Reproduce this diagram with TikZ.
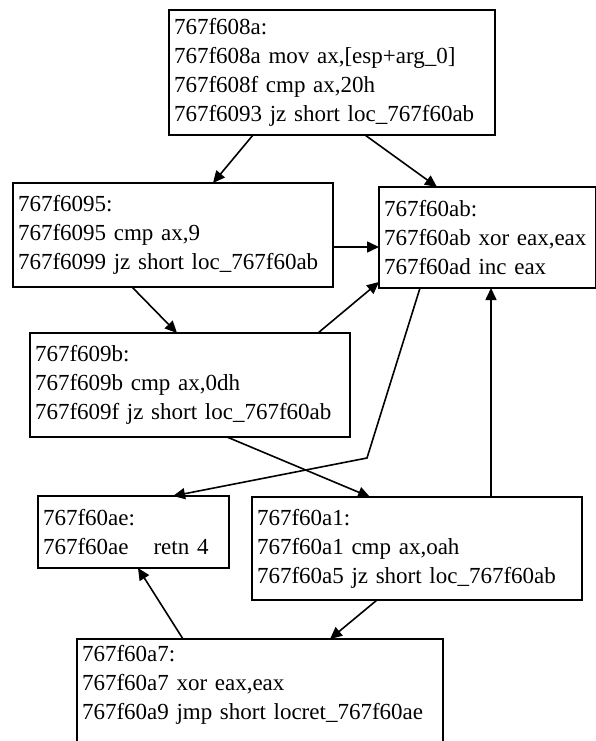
\documentclass[tikz,border=0pt]{standalone}
\usepackage{fontspec}
\setmainfont{Liberation Serif}
\usetikzlibrary{arrows.meta}

\tikzset{
  blk/.style={draw, line width=1.7pt, anchor=north west, align=left, outer sep=0pt,
    inner xsep=5pt, inner ysep=0pt, font=\fontsize{23}{29}\selectfont},
  flow/.style={-{Triangle[length=12pt,width=11pt]}, line width=1.6pt}
}

\begin{document}
\begin{tikzpicture}[x=1pt,y=-1pt]
    \useasboundingbox (0,0) rectangle (596,741);
    \clip (0,0) rectangle (596,741);

    % Basic blocks
    \node[blk, text width=316pt, minimum height=125pt] (b608a) at (169,10)
        {767f608a:\\ 767f608a mov ax,[esp+arg\_0]\\ 767f608f cmp ax,20h\\ 767f6093 jz short loc\_767f60ab};
    \node[blk, text width=310pt, minimum height=104pt] (b6095) at (13,183)
        {767f6095:\\ 767f6095 cmp ax,9\\ 767f6099 jz short loc\_767f60ab};
    \node[blk, text width=207pt, minimum height=101pt] (b60ab) at (379,187)
        {767f60ab:\\ 767f60ab xor eax,eax\\ 767f60ad inc eax};
    \node[blk, text width=310pt, minimum height=104pt] (b609b) at (30,333)
        {767f609b:\\ 767f609b cmp ax,0dh\\ 767f609f jz short loc\_767f60ab};
    \node[blk, text width=181pt, minimum height=72pt] (b60ae) at (38,496)
        {767f60ae:\\ 767f60ae\hspace{25pt}retn 4};
    \node[blk, text width=320pt, minimum height=103pt] (b60a1) at (252,497)
        {767f60a1:\\ 767f60a1 cmp ax,oah\\ 767f60a5 jz short loc\_767f60ab};
    % last block runs off the page
    \node[blk, text width=356pt, inner ysep=6pt] (b60a7) at (77,639)
        {767f60a7:\\ 767f60a7 xor eax,eax\\ 767f60a9 jmp short locret\_767f60ae\\[20pt]\mbox{}};

    \coordinate (kink) at (367,458);

    % Control flow
    \draw[flow] ([xshift=84pt]b608a.south west) -- ([xshift=200pt]b6095.north west);
    \draw[flow] ([xshift=196pt]b608a.south west) -- ([xshift=58pt]b60ab.north west);
    \draw[flow] ([yshift=-12pt]b6095.east) -- ([yshift=-9.5pt]b60ab.west);
    \draw[flow] ([xshift=119pt]b6095.south west) -- ([xshift=147pt]b609b.north west);
    \draw[flow] ([xshift=288pt]b609b.north west) -- ([yshift=6pt]b60ab.south west);
    \draw[flow] ([xshift=197pt]b609b.south west) -- ([xshift=118pt]b60a1.north west);
    \draw[flow] ([xshift=41pt]b60ab.south west) -- (kink) -- ([xshift=135pt]b60ae.north west);
    \draw[flow] ([xshift=239pt]b60a1.north west) -- ([xshift=112pt]b60ab.south west);
    \draw[flow] ([xshift=125pt]b60a1.south west) -- ([xshift=253pt]b60a7.north west);
    \draw[flow] ([xshift=106pt]b60a7.north west) -- ([xshift=100pt]b60ae.south west);
\end{tikzpicture}
\end{document}
